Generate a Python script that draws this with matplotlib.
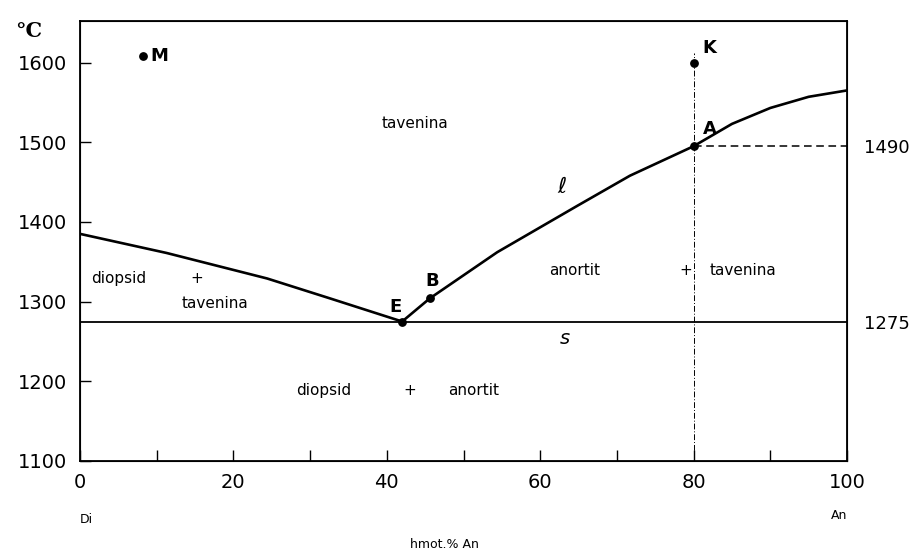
import matplotlib
matplotlib.use("Agg")
import matplotlib.pyplot as plt

plt.rcParams['font.family'] = ['DejaVu Sans']

# liquidus Di strana (0 -> E)
liq_di_x = [0, 11.3, 24.4, 32.6, 42]
liq_di_t = [1385, 1361, 1329, 1304, 1275]
# liquidus An strana (E -> 100)
liq_an_x = [42, 45.6, 54.4, 64.8, 71.7, 80, 85, 90, 95, 100]
liq_an_t = [1275, 1304, 1362, 1420, 1458, 1495, 1523, 1543, 1557, 1565]
# solidus
sol_t = 1275
# body
bod_nazvy = ['M', 'K', 'A', 'B', 'E']
bod_x = [8.2, 80, 80, 45.6, 42]
bod_t = [1608, 1600, 1495, 1304, 1275]
# popisky os
x_ticks = [0, 20, 40, 60, 80, 100]
x_minor = [10, 30, 50, 70, 90]
y_ticks = [1100, 1200, 1300, 1400, 1500, 1600]
prave_popisky = ['1490', '1275']

fig = plt.figure(figsize=(9.1, 5.55), dpi=100)
ax = fig.add_axes([0.0879, 0.1694, 0.8429, 0.7926])

ax.plot(liq_di_x, liq_di_t, color='black', lw=1.9, solid_capstyle='butt')
ax.plot(liq_an_x, liq_an_t, color='black', lw=1.9, solid_capstyle='butt')
ax.plot([0, 100], [sol_t, sol_t], color='black', lw=1.3)

# pomocne cary z bodu A a K
A_x, A_t = bod_x[2], bod_t[2]
ax.plot([A_x, 100], [A_t, A_t], color='black', lw=1.1, linestyle=(0, (5, 3)))
ax.plot([bod_x[1], bod_x[1]], [1100, 1612], color='black', lw=0.7,
        linestyle=(0, (6, 2, 1, 2)))

ax.scatter(bod_x, bod_t, s=28, color='black', zorder=5)

# popisky bodu
ax.text(bod_x[0] + 1.0, bod_t[0], 'M', fontsize=13, fontweight='bold', va='center', ha='left')
ax.text(bod_x[1] + 1.2, bod_t[1] + 18, 'K', fontsize=13, fontweight='bold', va='center', ha='left')
ax.text(bod_x[2] + 1.2, bod_t[2] + 22, 'A', fontsize=13, fontweight='bold', va='center', ha='left')
ax.text(bod_x[3] + 0.3, bod_t[3] + 22, 'B', fontsize=13, fontweight='bold', va='center', ha='center')
ax.text(bod_x[4] - 0.9, bod_t[4] + 18, 'E', fontsize=13, fontweight='bold', va='center', ha='center')

# oblasti
reg = dict(fontsize=11, va='center')
ax.text(43.7, 1523, 'tavenina', ha='center', **reg)
ax.text(1.4, 1329, 'diopsid', ha='left', **reg)
ax.text(15.2, 1329, '+', ha='center', **reg)
ax.text(13.3, 1298, 'tavenina', ha='left', **reg)
ax.text(64.5, 1339, 'anortit', ha='center', **reg)
ax.text(79.0, 1339, '+', ha='center', **reg)
ax.text(86.5, 1339, 'tavenina', ha='center', **reg)
ax.text(31.8, 1188, 'diopsid', ha='center', **reg)
ax.text(43.0, 1188, '+', ha='center', **reg)
ax.text(51.3, 1188, 'anortit', ha='center', **reg)
ax.text(62.8, 1444, '\u2113', fontsize=16, style='italic', ha='center', va='center')
ax.text(63.2, 1254, 's', fontsize=14, style='italic', ha='center', va='center')

ax.set_xlim(0, 100)
ax.set_ylim(1100, 1652)
ax.set_xticks(x_ticks)
ax.set_xticks(x_minor, minor=True)
ax.set_yticks(y_ticks)
ax.tick_params(axis='both', which='both', direction='in', length=8, width=1.0,
               labelsize=14, pad=9, top=False, right=False)
for s in ax.spines.values():
    s.set_linewidth(1.3)

# prave popisky
ax2 = ax.twinx()
ax2.set_ylim(ax.get_ylim())
ax2.set_yticks([A_t, sol_t])
ax2.set_yticklabels(prave_popisky)
ax2.tick_params(axis='y', length=0, labelsize=13, pad=12)

ax.text(0.0, -0.132, 'Di', transform=ax.transAxes, fontsize=9, ha='left', va='center')
ax.text(1.0, -0.123, 'An', transform=ax.transAxes, fontsize=9, ha='right', va='center')
ax.text(0.475, -0.19, 'hmot.% An', transform=ax.transAxes, fontsize=9, ha='center', va='center')
fig.text(0.017, 0.945, '°C', fontsize=15, fontweight='bold', family='DejaVu Serif',
         ha='left', va='center')

fig.savefig('out.png', dpi=100)
